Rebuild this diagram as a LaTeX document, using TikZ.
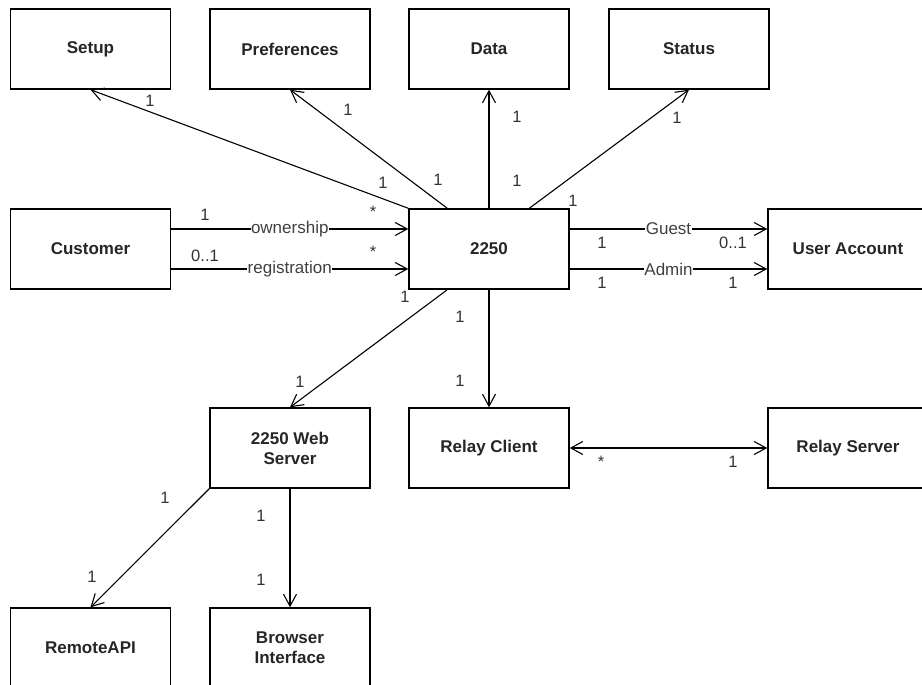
\documentclass[tikz,border=0pt]{standalone}
\usepackage{fontspec}
\setmainfont{Liberation Sans}
\usetikzlibrary{arrows.meta,calc}
\begin{document}
\begin{tikzpicture}[x=1pt,y=-1pt,
  box/.style={draw=black, line width=1.4pt, minimum width=160pt, minimum height=80pt, inner sep=2pt, align=center, font=\fontsize{17}{20}\selectfont\bfseries, text=black!85},
  assoc/.style={line width=1.1pt, -{Straight Barb[length=12pt,width=13pt,line width=1.1pt]}},
  bidir/.style={line width=1.1pt, {Straight Barb[length=12pt,width=13pt,line width=1.1pt]}-{Straight Barb[length=12pt,width=13pt,line width=1.1pt]}},
  mult/.style={font=\fontsize{16.5}{18}\selectfont, text=black!80, inner sep=0pt},
  role/.style={font=\fontsize{17}{19}\selectfont, text=black!75, fill=white, inner sep=0.5pt}]
\clip (0,0) rectangle (922,685);
\fill[white] (0,0) rectangle (922,685);
% boxes
\node[box] (setup) at (90.5,49) {Setup};
\node[box] (pref) at (290,49) {Preferences};
\node[box] (data) at (489,49) {Data};
\node[box] (status) at (689,49) {Status};
\node[box] (cust) at (90.5,249) {Customer};
\node[box] (main) at (489,249) {2250};
\node[box] (user) at (848,249) {User Account};
\node[box] (web) at (290,448) {2250 Web\\Server};
\node[box] (rclient) at (489,448) {Relay Client};
\node[box] (rserver) at (848,448) {Relay Server};
\node[box] (api) at (90.5,648) {RemoteAPI};
\node[box] (browser) at (290,648) {Browser\\Interface};
% attachment points
\coordinate (mP) at ($(main.north west)+(39,0)$);
\coordinate (mS) at ($(main.north west)+(121,0)$);
\coordinate (mW) at ($(main.south west)+(39,0)$);
\coordinate (cO) at ($(cust.east)+(0,-20)$);
\coordinate (cR) at ($(cust.east)+(0,20)$);
\coordinate (mO) at ($(main.west)+(0,-20)$);
\coordinate (mR) at ($(main.west)+(0,20)$);
\coordinate (mG) at ($(main.east)+(0,-20)$);
\coordinate (mA) at ($(main.east)+(0,20)$);
\coordinate (uG) at ($(user.west)+(0,-20)$);
\coordinate (uA) at ($(user.west)+(0,20)$);
% connectors
\draw[assoc] (main.north west) -- (setup.south);
\draw[assoc] (mP) -- (pref.south);
\draw[assoc] (main.north) -- (data.south);
\draw[assoc] (mS) -- (status.south);
\draw[assoc] (cO) -- node[role] (lown) {ownership} (mO);
\draw[assoc] (cR) -- node[role] (lreg) {registration} (mR);
\draw[assoc] (mG) -- node[role] (lguest) {Guest} (uG);
\draw[assoc] (mA) -- node[role] (ladmin) {Admin} (uA);
\draw[assoc] (mW) -- (web.north);
\draw[assoc] (main.south) -- (rclient.north);
\draw[bidir] (rclient.east) -- (rserver.west);
\draw[assoc] (web.south west) -- (api.north);
\draw[assoc] (web.south) -- (browser.north);
% multiplicities
\node[mult] (n1) at (150,101) {1};
\node[mult] (n2) at (383,183) {1};
\node[mult] (n3) at (348,110) {1};
\node[mult] (n4) at (438,180) {1};
\node[mult] (n5) at (517,117) {1};
\node[mult] (n6) at (517,181) {1};
\node[mult] (n7) at (677,118) {1};
\node[mult] (n8) at (573,201) {1};
\node[mult] (n9) at (205,215) {1};
\node[mult] (n10) at (373,212) {*};
\node[mult] (n11) at (205,256) {0..1};
\node[mult] (n12) at (373,252) {*};
\node[mult] (n13) at (602,243) {1};
\node[mult] (n14) at (733,243) {0..1};
\node[mult] (n15) at (602,283) {1};
\node[mult] (n16) at (733,283) {1};
\node[mult] (n17) at (405,297) {1};
\node[mult] (n18) at (300,382) {1};
\node[mult] (n19) at (460,317) {1};
\node[mult] (n20) at (460,381) {1};
\node[mult] (n21) at (601,462) {*};
\node[mult] (n22) at (733,462) {1};
\node[mult] (n23) at (165,498) {1};
\node[mult] (n24) at (92,577) {1};
\node[mult] (n25) at (261,516) {1};
\node[mult] (n26) at (261,580) {1};
\end{tikzpicture}
\end{document}
